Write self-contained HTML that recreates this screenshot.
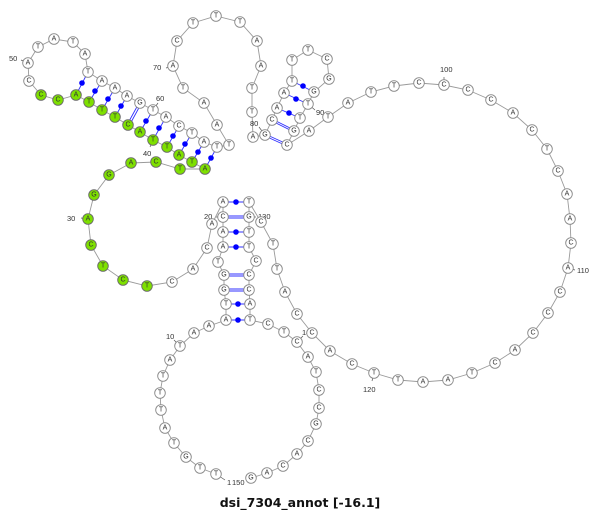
<!DOCTYPE html>
<html><head><meta charset="utf-8"><style>
html,body{margin:0;padding:0;background:#fff;}
svg{display:block;}
.n circle{fill:#fff;stroke:#8a8a8a;stroke-width:0.9;}
.n circle.g{fill:#7ee000;stroke:#6a6a6a;}
.n text{font-family:"Liberation Sans",sans-serif;font-size:7px;fill:#333;text-anchor:middle;dominant-baseline:central;}
.lb{font-family:"Liberation Sans",sans-serif;font-size:7.5px;fill:#333;}
.p{stroke:#3030ff;stroke-width:0.9;fill:none;}
</style></head><body>
<svg width="600" height="512" viewBox="0 0 600 512" xmlns="http://www.w3.org/2000/svg">
<polyline fill="none" stroke="#9a9a9a" stroke-width="0.9" points="216,474 200,468 186,457 174,443 165,428 161,410 160,393 163,376 170,360 180,346 194,333 209,326 226,320 226,304 224,290 224,275 218,262 223,247 223,232 223,217 223,202 212,224 207,248 193,269 172,282 147,286 123,280 103,266 91,245 88,219 94,195 109,175 131,163 156,162 180,169 205,169 192,162 179,155 167,147 153,140 140,132 128,125 115,117 102,110 89,102 76,95 58,100 41,95 29,81 28,63 38,47 54,39 73,42 85,54 88,72 102,81 115,88 127,96 140,103 153,110 166,117 179,126 192,133 204,142 217,147 229,145 217,125 204,103 183,88 173,66 177,41 193,23 216,16 240,22 257,41 261,66 252,88 252,112 253,137 265,135 272,120 277,108 284,93 292,81 292,60 308,50 327,59 329,79 314,92 308,104 300,118 294,131 287,145 309,131 328,117 348,103 371,92 394,86 419,83 444,85 468,90 491,100 513,113 532,130 547,149 558,171 567,194 570,219 571,243 568,268 560,292 548,313 533,333 515,350 495,363 472,373 448,380 423,382 398,380 374,373 352,364 330,351 312,333 297,314 285,292 277,269 273,244 261,222 249,202 249,217 249,232 249,247 256,261 249,275 249,290 250,304 250,320 268,324 284,332 297,342 308,357 316,372 319,390 319,408 316,424 308,441 297,454 283,466 267,473 251,478"/>
<!-- pairs -->
<g class="p">
<line x1="226" y1="320" x2="250" y2="320"/><line x1="226" y1="304" x2="250" y2="304"/>
<line x1="224" y1="289" x2="249" y2="289"/><line x1="224" y1="291" x2="249" y2="291"/>
<line x1="224" y1="274" x2="249" y2="274"/><line x1="224" y1="276" x2="249" y2="276"/>
<line x1="223" y1="247" x2="249" y2="247"/><line x1="223" y1="232" x2="249" y2="232"/>
<line x1="223" y1="216" x2="249" y2="216"/><line x1="223" y1="218" x2="249" y2="218"/>
<line x1="223" y1="202" x2="249" y2="202"/>
<line x1="205" y1="169" x2="217" y2="147"/><line x1="192" y1="162" x2="204" y2="142"/>
<line x1="179" y1="155" x2="192" y2="133"/><line x1="167" y1="147" x2="179" y2="126"/>
<line x1="153" y1="140" x2="166" y2="117"/><line x1="140" y1="132" x2="153" y2="110"/>
<line x1="127" y1="125" x2="139" y2="103"/><line x1="129" y1="126" x2="141" y2="104"/>
<line x1="115" y1="117" x2="127" y2="96"/><line x1="102" y1="110" x2="115" y2="88"/>
<line x1="89" y1="102" x2="102" y2="81"/><line x1="76" y1="95" x2="88" y2="72"/>
<line x1="265" y1="134" x2="287" y2="144"/><line x1="265" y1="136" x2="287" y2="146"/>
<line x1="272" y1="119" x2="294" y2="130"/><line x1="272" y1="121" x2="294" y2="132"/>
<line x1="277" y1="108" x2="300" y2="118"/><line x1="284" y1="93" x2="308" y2="104"/>
<line x1="292" y1="81" x2="314" y2="92"/>
</g>
<g fill="#0000ff">
<circle cx="238" cy="320" r="2.8"/><circle cx="238" cy="304" r="2.8"/><circle cx="236" cy="247" r="2.8"/><circle cx="236" cy="232" r="2.8"/><circle cx="236" cy="202" r="2.8"/>
<circle cx="211" cy="158" r="2.8"/><circle cx="198" cy="152" r="2.8"/><circle cx="185" cy="144" r="2.8"/><circle cx="173" cy="136" r="2.8"/><circle cx="159" cy="128" r="2.8"/><circle cx="146" cy="121" r="2.8"/><circle cx="121" cy="106" r="2.8"/><circle cx="108" cy="99" r="2.8"/><circle cx="95" cy="91" r="2.8"/><circle cx="82" cy="83" r="2.8"/>
<circle cx="289" cy="113" r="2.8"/><circle cx="296" cy="99" r="2.8"/><circle cx="303" cy="86" r="2.8"/>
</g>
<!-- label ticks -->
<g stroke="#555" stroke-width="0.7">
<line x1="180" y1="346" x2="174" y2="340"/><line x1="223" y1="217" x2="216" y2="217"/><line x1="88" y1="219" x2="81" y2="218"/><line x1="153" y1="140" x2="150" y2="147"/><line x1="28" y1="63" x2="21" y2="60"/><line x1="153" y1="110" x2="158" y2="103"/><line x1="173" y1="66" x2="166" y2="68"/><line x1="265" y1="135" x2="259" y2="127"/><line x1="308" y1="104" x2="315" y2="110"/><line x1="444" y1="85" x2="444" y2="77"/><line x1="568" y1="268" x2="575" y2="270"/><line x1="374" y1="373" x2="372" y2="381"/><line x1="249" y1="217" x2="256" y2="217"/><line x1="297" y1="342" x2="303" y2="336"/><line x1="216" y1="474" x2="225" y2="480"/>
</g>
<g class="lb">
<text x="166" y="339">10</text><text x="204" y="219">20</text><text x="67" y="221">30</text><text x="143" y="156">40</text><text x="9" y="61">50</text><text x="156" y="101">60</text><text x="153" y="70">70</text><text x="250" y="126">80</text><text x="316" y="115">90</text><text x="440" y="72">100</text><text x="577" y="273">110</text><text x="363" y="392">120</text><text x="258" y="219">130</text><text x="302" y="335">140</text><text x="227" y="485">1</text><text x="232" y="485">150</text>
</g>
<g class="n">
<circle cx="216" cy="474" r="5.3"/><text x="216" y="474">T</text>
<circle cx="200" cy="468" r="5.3"/><text x="200" y="468">T</text>
<circle cx="186" cy="457" r="5.3"/><text x="186" y="457">G</text>
<circle cx="174" cy="443" r="5.3"/><text x="174" y="443">T</text>
<circle cx="165" cy="428" r="5.3"/><text x="165" y="428">A</text>
<circle cx="161" cy="410" r="5.3"/><text x="161" y="410">T</text>
<circle cx="160" cy="393" r="5.3"/><text x="160" y="393">T</text>
<circle cx="163" cy="376" r="5.3"/><text x="163" y="376">T</text>
<circle cx="170" cy="360" r="5.3"/><text x="170" y="360">A</text>
<circle cx="180" cy="346" r="5.3"/><text x="180" y="346">T</text>
<circle cx="194" cy="333" r="5.3"/><text x="194" y="333">A</text>
<circle cx="209" cy="326" r="5.3"/><text x="209" y="326">A</text>
<circle cx="226" cy="320" r="5.3"/><text x="226" y="320">A</text>
<circle cx="226" cy="304" r="5.3"/><text x="226" y="304">T</text>
<circle cx="224" cy="290" r="5.3"/><text x="224" y="290">G</text>
<circle cx="224" cy="275" r="5.3"/><text x="224" y="275">G</text>
<circle cx="218" cy="262" r="5.3"/><text x="218" y="262">T</text>
<circle cx="223" cy="247" r="5.3"/><text x="223" y="247">A</text>
<circle cx="223" cy="232" r="5.3"/><text x="223" y="232">A</text>
<circle cx="223" cy="217" r="5.3"/><text x="223" y="217">C</text>
<circle cx="223" cy="202" r="5.3"/><text x="223" y="202">A</text>
<circle cx="212" cy="224" r="5.3"/><text x="212" y="224">A</text>
<circle cx="207" cy="248" r="5.3"/><text x="207" y="248">C</text>
<circle cx="193" cy="269" r="5.3"/><text x="193" y="269">A</text>
<circle cx="172" cy="282" r="5.3"/><text x="172" y="282">C</text>
<circle class="g" cx="147" cy="286" r="5.3"/><text x="147" y="286">T</text>
<circle class="g" cx="123" cy="280" r="5.3"/><text x="123" y="280">C</text>
<circle class="g" cx="103" cy="266" r="5.3"/><text x="103" y="266">T</text>
<circle class="g" cx="91" cy="245" r="5.3"/><text x="91" y="245">C</text>
<circle class="g" cx="88" cy="219" r="5.3"/><text x="88" y="219">A</text>
<circle class="g" cx="94" cy="195" r="5.3"/><text x="94" y="195">G</text>
<circle class="g" cx="109" cy="175" r="5.3"/><text x="109" y="175">G</text>
<circle class="g" cx="131" cy="163" r="5.3"/><text x="131" y="163">A</text>
<circle class="g" cx="156" cy="162" r="5.3"/><text x="156" y="162">C</text>
<circle class="g" cx="180" cy="169" r="5.3"/><text x="180" y="169">T</text>
<circle class="g" cx="205" cy="169" r="5.3"/><text x="205" y="169">A</text>
<circle class="g" cx="192" cy="162" r="5.3"/><text x="192" y="162">T</text>
<circle class="g" cx="179" cy="155" r="5.3"/><text x="179" y="155">A</text>
<circle class="g" cx="167" cy="147" r="5.3"/><text x="167" y="147">T</text>
<circle class="g" cx="153" cy="140" r="5.3"/><text x="153" y="140">T</text>
<circle class="g" cx="140" cy="132" r="5.3"/><text x="140" y="132">A</text>
<circle class="g" cx="128" cy="125" r="5.3"/><text x="128" y="125">C</text>
<circle class="g" cx="115" cy="117" r="5.3"/><text x="115" y="117">T</text>
<circle class="g" cx="102" cy="110" r="5.3"/><text x="102" y="110">T</text>
<circle class="g" cx="89" cy="102" r="5.3"/><text x="89" y="102">T</text>
<circle class="g" cx="76" cy="95" r="5.3"/><text x="76" y="95">A</text>
<circle class="g" cx="58" cy="100" r="5.3"/><text x="58" y="100">C</text>
<circle class="g" cx="41" cy="95" r="5.3"/><text x="41" y="95">C</text>
<circle cx="29" cy="81" r="5.3"/><text x="29" y="81">C</text>
<circle cx="28" cy="63" r="5.3"/><text x="28" y="63">A</text>
<circle cx="38" cy="47" r="5.3"/><text x="38" y="47">T</text>
<circle cx="54" cy="39" r="5.3"/><text x="54" y="39">A</text>
<circle cx="73" cy="42" r="5.3"/><text x="73" y="42">T</text>
<circle cx="85" cy="54" r="5.3"/><text x="85" y="54">A</text>
<circle cx="88" cy="72" r="5.3"/><text x="88" y="72">T</text>
<circle cx="102" cy="81" r="5.3"/><text x="102" y="81">A</text>
<circle cx="115" cy="88" r="5.3"/><text x="115" y="88">A</text>
<circle cx="127" cy="96" r="5.3"/><text x="127" y="96">A</text>
<circle cx="140" cy="103" r="5.3"/><text x="140" y="103">G</text>
<circle cx="153" cy="110" r="5.3"/><text x="153" y="110">T</text>
<circle cx="166" cy="117" r="5.3"/><text x="166" y="117">A</text>
<circle cx="179" cy="126" r="5.3"/><text x="179" y="126">C</text>
<circle cx="192" cy="133" r="5.3"/><text x="192" y="133">T</text>
<circle cx="204" cy="142" r="5.3"/><text x="204" y="142">A</text>
<circle cx="217" cy="147" r="5.3"/><text x="217" y="147">T</text>
<circle cx="229" cy="145" r="5.3"/><text x="229" y="145">T</text>
<circle cx="217" cy="125" r="5.3"/><text x="217" y="125">A</text>
<circle cx="204" cy="103" r="5.3"/><text x="204" y="103">A</text>
<circle cx="183" cy="88" r="5.3"/><text x="183" y="88">T</text>
<circle cx="173" cy="66" r="5.3"/><text x="173" y="66">A</text>
<circle cx="177" cy="41" r="5.3"/><text x="177" y="41">C</text>
<circle cx="193" cy="23" r="5.3"/><text x="193" y="23">T</text>
<circle cx="216" cy="16" r="5.3"/><text x="216" y="16">T</text>
<circle cx="240" cy="22" r="5.3"/><text x="240" y="22">T</text>
<circle cx="257" cy="41" r="5.3"/><text x="257" y="41">A</text>
<circle cx="261" cy="66" r="5.3"/><text x="261" y="66">A</text>
<circle cx="252" cy="88" r="5.3"/><text x="252" y="88">T</text>
<circle cx="252" cy="112" r="5.3"/><text x="252" y="112">T</text>
<circle cx="253" cy="137" r="5.3"/><text x="253" y="137">A</text>
<circle cx="265" cy="135" r="5.3"/><text x="265" y="135">G</text>
<circle cx="272" cy="120" r="5.3"/><text x="272" y="120">C</text>
<circle cx="277" cy="108" r="5.3"/><text x="277" y="108">A</text>
<circle cx="284" cy="93" r="5.3"/><text x="284" y="93">A</text>
<circle cx="292" cy="81" r="5.3"/><text x="292" y="81">T</text>
<circle cx="292" cy="60" r="5.3"/><text x="292" y="60">T</text>
<circle cx="308" cy="50" r="5.3"/><text x="308" y="50">T</text>
<circle cx="327" cy="59" r="5.3"/><text x="327" y="59">C</text>
<circle cx="329" cy="79" r="5.3"/><text x="329" y="79">G</text>
<circle cx="314" cy="92" r="5.3"/><text x="314" y="92">G</text>
<circle cx="308" cy="104" r="5.3"/><text x="308" y="104">T</text>
<circle cx="300" cy="118" r="5.3"/><text x="300" y="118">T</text>
<circle cx="294" cy="131" r="5.3"/><text x="294" y="131">G</text>
<circle cx="287" cy="145" r="5.3"/><text x="287" y="145">C</text>
<circle cx="309" cy="131" r="5.3"/><text x="309" y="131">A</text>
<circle cx="328" cy="117" r="5.3"/><text x="328" y="117">T</text>
<circle cx="348" cy="103" r="5.3"/><text x="348" y="103">A</text>
<circle cx="371" cy="92" r="5.3"/><text x="371" y="92">T</text>
<circle cx="394" cy="86" r="5.3"/><text x="394" y="86">T</text>
<circle cx="419" cy="83" r="5.3"/><text x="419" y="83">C</text>
<circle cx="444" cy="85" r="5.3"/><text x="444" y="85">C</text>
<circle cx="468" cy="90" r="5.3"/><text x="468" y="90">C</text>
<circle cx="491" cy="100" r="5.3"/><text x="491" y="100">C</text>
<circle cx="513" cy="113" r="5.3"/><text x="513" y="113">A</text>
<circle cx="532" cy="130" r="5.3"/><text x="532" y="130">C</text>
<circle cx="547" cy="149" r="5.3"/><text x="547" y="149">T</text>
<circle cx="558" cy="171" r="5.3"/><text x="558" y="171">C</text>
<circle cx="567" cy="194" r="5.3"/><text x="567" y="194">A</text>
<circle cx="570" cy="219" r="5.3"/><text x="570" y="219">A</text>
<circle cx="571" cy="243" r="5.3"/><text x="571" y="243">C</text>
<circle cx="568" cy="268" r="5.3"/><text x="568" y="268">A</text>
<circle cx="560" cy="292" r="5.3"/><text x="560" y="292">C</text>
<circle cx="548" cy="313" r="5.3"/><text x="548" y="313">C</text>
<circle cx="533" cy="333" r="5.3"/><text x="533" y="333">C</text>
<circle cx="515" cy="350" r="5.3"/><text x="515" y="350">A</text>
<circle cx="495" cy="363" r="5.3"/><text x="495" y="363">C</text>
<circle cx="472" cy="373" r="5.3"/><text x="472" y="373">T</text>
<circle cx="448" cy="380" r="5.3"/><text x="448" y="380">A</text>
<circle cx="423" cy="382" r="5.3"/><text x="423" y="382">A</text>
<circle cx="398" cy="380" r="5.3"/><text x="398" y="380">T</text>
<circle cx="374" cy="373" r="5.3"/><text x="374" y="373">T</text>
<circle cx="352" cy="364" r="5.3"/><text x="352" y="364">C</text>
<circle cx="330" cy="351" r="5.3"/><text x="330" y="351">A</text>
<circle cx="312" cy="333" r="5.3"/><text x="312" y="333">C</text>
<circle cx="297" cy="314" r="5.3"/><text x="297" y="314">C</text>
<circle cx="285" cy="292" r="5.3"/><text x="285" y="292">A</text>
<circle cx="277" cy="269" r="5.3"/><text x="277" y="269">T</text>
<circle cx="273" cy="244" r="5.3"/><text x="273" y="244">T</text>
<circle cx="261" cy="222" r="5.3"/><text x="261" y="222">C</text>
<circle cx="249" cy="202" r="5.3"/><text x="249" y="202">T</text>
<circle cx="249" cy="217" r="5.3"/><text x="249" y="217">G</text>
<circle cx="249" cy="232" r="5.3"/><text x="249" y="232">T</text>
<circle cx="249" cy="247" r="5.3"/><text x="249" y="247">T</text>
<circle cx="256" cy="261" r="5.3"/><text x="256" y="261">C</text>
<circle cx="249" cy="275" r="5.3"/><text x="249" y="275">C</text>
<circle cx="249" cy="290" r="5.3"/><text x="249" y="290">C</text>
<circle cx="250" cy="304" r="5.3"/><text x="250" y="304">A</text>
<circle cx="250" cy="320" r="5.3"/><text x="250" y="320">T</text>
<circle cx="268" cy="324" r="5.3"/><text x="268" y="324">C</text>
<circle cx="284" cy="332" r="5.3"/><text x="284" y="332">T</text>
<circle cx="297" cy="342" r="5.3"/><text x="297" y="342">C</text>
<circle cx="308" cy="357" r="5.3"/><text x="308" y="357">A</text>
<circle cx="316" cy="372" r="5.3"/><text x="316" y="372">T</text>
<circle cx="319" cy="390" r="5.3"/><text x="319" y="390">C</text>
<circle cx="319" cy="408" r="5.3"/><text x="319" y="408">C</text>
<circle cx="316" cy="424" r="5.3"/><text x="316" y="424">G</text>
<circle cx="308" cy="441" r="5.3"/><text x="308" y="441">C</text>
<circle cx="297" cy="454" r="5.3"/><text x="297" y="454">A</text>
<circle cx="283" cy="466" r="5.3"/><text x="283" y="466">C</text>
<circle cx="267" cy="473" r="5.3"/><text x="267" y="473">A</text>
<circle cx="251" cy="478" r="5.3"/><text x="251" y="478">G</text>
</g>
<text x="300" y="507" text-anchor="middle" font-family="'DejaVu Sans','Liberation Sans',sans-serif" font-weight="bold" font-size="12.5" fill="#111">dsi_7304_annot [-16.1]</text>
</svg>
</body></html>
